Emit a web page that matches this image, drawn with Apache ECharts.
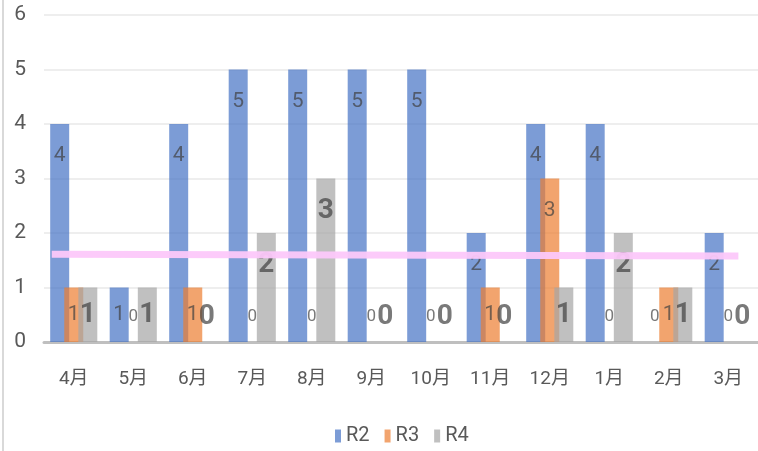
<!DOCTYPE html>
<html>
<head>
<meta charset="utf-8">
<script src="https://cdn.jsdelivr.net/npm/echarts@6/dist/echarts.min.js"></script>
<style>
html,body{margin:0;padding:0;background:#fff;}
#c{width:758px;height:451px;}
</style>
</head>
<body>
<div id="c"></div>
<script>
var categories = ['4月','5月','6月','7月','8月','9月','10月','11月','12月','1月','2月','3月'];
var r2 = [4,1,4,5,5,5,5,2,4,4,0,2];
var r3 = [1,0,1,0,0,0,0,1,3,0,1,0];
var r4 = [1,1,0,2,3,0,0,0,1,2,1,0];
var yTicks = [0,1,2,3,4,5,6];
// hand-drawn average line (x in category units, y value)
var avgLine = [[0.13,1.61],[11.67,1.58]];

var FONT = "Roboto,'Noto Sans CJK SC',sans-serif";

function mkData(arr, big){
  return arr.map(function(v){
    var off = v === 0 ? -25 : (v === 1 ? 27 : 32);
    var lab = {position:['50%', off], align:'center', verticalAlign:'middle'};
    if (v === 0 && !big) lab.fontSize = 17;
    return {value:v, label:lab};
  });
}

function barSeries(name, arr, color, big){
  return {
    name:name, type:'bar', data:mkData(arr, big),
    barWidth:19, barGap:'-26%',
    itemStyle:{color:color, opacity:0.7},
    label:{show:true, color:'#404040', fontFamily:FONT,
      fontSize: big ? 28 : 21, fontWeight: big ? 'bold' : 'normal'}
  };
}

var chart = echarts.init(document.getElementById('c'));
chart.setOption({
  animation:false,
  backgroundColor:'#fff',
  grid:{left:44, top:15, width:717, bottom:109, containLabel:false},
  legend:{
    data:['R2','R3','R4'], bottom:0, left:330,
    itemWidth:6, itemHeight:13, itemGap:15,
    icon:'rect',
    textStyle:{color:'#595959', fontSize:20, fontFamily:FONT}
  },
  xAxis:[{
    type:'category', data:categories,
    axisLine:{show:true, lineStyle:{color:'#BFBFBF', width:3}},
    axisTick:{show:false},
    axisLabel:{color:'#595959', fontSize:19, margin:28, fontFamily:FONT}
  },{
    type:'value', min:0, max:12, show:false
  }],
  yAxis:{
    type:'value', min:yTicks[0], max:yTicks[yTicks.length-1], interval:1,
    axisLine:{show:false}, axisTick:{show:false},
    axisLabel:{color:'#595959', fontSize:21, margin:18, fontFamily:FONT},
    splitLine:{lineStyle:{color:'#EEEEEE', width:2}}
  },
  series:[
    barSeries('R2', r2, '#4472C4', false),
    barSeries('R3', r3, '#ED7D31', false),
    barSeries('R4', r4, '#A5A5A5', true),
    {
      name:'avg', type:'line', xAxisIndex:1, data:avgLine,
      symbol:'none', z:5, silent:true,
      lineStyle:{color:'#FCC8FA', width:7, opacity:0.95}
    }
  ],
  graphic:[{type:'rect', shape:{x:2, y:0, width:2, height:451}, style:{fill:'#D9D9D9'}}]
});
</script>
</body>
</html>
